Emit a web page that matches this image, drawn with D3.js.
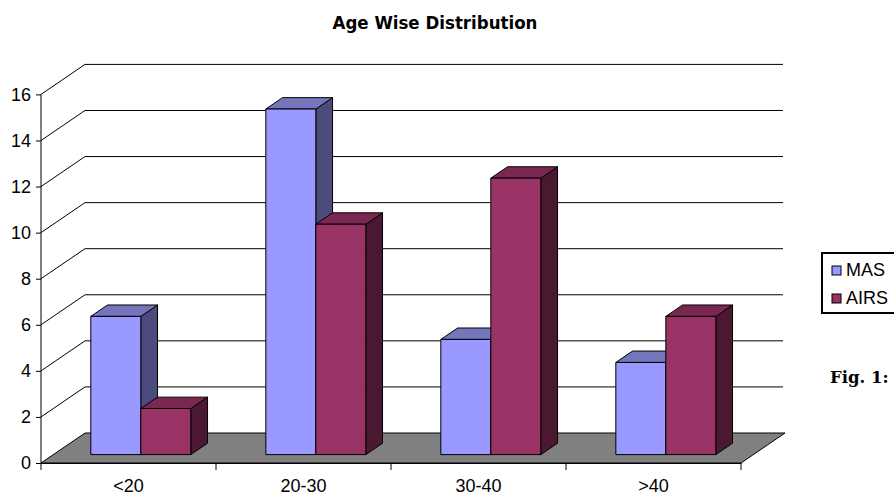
<!DOCTYPE html>
<html>
<head>
<meta charset="utf-8">
<script src="https://cdn.jsdelivr.net/npm/d3@7"></script>
<style>
  html, body { margin: 0; padding: 0; background: #fff; }
  svg { display: block; }
</style>
</head>
<body>
<svg id="chart" width="894" height="495"></svg>
<script>
// Age groups and counts per series
const categories = ["<20", "20-30", "30-40", ">40"];
const seriesNames = ["MAS", "AIRS"];
const masValues = [6, 15, 5, 4];
const airsValues = [2, 10, 12, 6];
const yTicks = [0, 2, 4, 6, 8, 10, 12, 14, 16];

const series = [
  { name: seriesNames[0], values: masValues, front: "#9999ff", top: "#7575bb", side: "#4b4b7e" },
  { name: seriesNames[1], values: airsValues, front: "#993366", top: "#7a2852", side: "#4b1832" }
];

const svg = d3.select("#chart");

// Front plane of the 3D box and the depth offset to its back wall
const x0 = 41, x1 = 741, yBase = 463;
const depthX = 44, depthY = -30;
// bars stand in a slab partway into the floor
const barFront = 0.28, barBack = 0.66;

const x = d3.scaleBand().domain(categories).range([x0, x1]).paddingInner(0).paddingOuter(0);
const xs = d3.scaleBand().domain(seriesNames).range([0, x.bandwidth()]).paddingOuter(0.75).paddingInner(0);
const y = d3.scaleLinear().domain([0, 16]).range([yBase, yBase - 368.6]);

// project a point on the front plane back by depth fraction d
const P = (px, py, d) => [px + d * depthX, py + d * depthY];
const pts = arr => arr.map(p => p.join(",")).join(" ");

// Floor
svg.append("polygon")
  .attr("points", pts([P(x0, yBase, 0), P(x1, yBase, 0), P(x1, yBase, 1), P(x0, yBase, 1)]))
  .attr("fill", "#808080")
  .attr("stroke", "#000")
  .attr("stroke-width", 1);

// Gridlines: slanted on the left wall, horizontal on the back wall
const grid = svg.append("g").attr("stroke", "#000").attr("stroke-width", 1).attr("fill", "none");
yTicks.filter(t => t > 0).forEach(t => {
  const a = P(x0, y(t), 0), b = P(x0, y(t), 1), c = P(x1 - 2, y(t), 1);
  grid.append("polyline").attr("points", pts([a, b, c]));
});

// Bars
const bars = svg.append("g").attr("stroke", "#000").attr("stroke-width", 1).attr("stroke-linejoin", "round");
categories.forEach((cat, i) => {
  series.forEach(s => {
    const v = s.values[i];
    const left = x(cat) + xs(s.name);
    const right = left + xs.bandwidth();
    const top = y(v), bot = y(0);
    const fl = P(left, top, barFront), fr = P(right, top, barFront);
    const br = P(right, top, barBack), bl = P(left, top, barBack);
    const frb = P(right, bot, barFront), brb = P(right, bot, barBack);
    const flb = P(left, bot, barFront);
    // right side face
    bars.append("polygon").attr("fill", s.side).attr("points", pts([fr, br, brb, frb]));
    // top face
    bars.append("polygon").attr("fill", s.top).attr("points", pts([fl, fr, br, bl]));
    // front face
    bars.append("polygon").attr("fill", s.front).attr("points", pts([fl, fr, frb, flb]));
  });
});

// Value axis on the front-left edge
const yAxis = svg.append("g").attr("transform", `translate(${x0},0)`)
  .call(d3.axisLeft(y).tickValues(yTicks).tickSize(5).tickPadding(5).tickFormat(d3.format("d")));
yAxis.select(".domain").attr("d", `M-0,${y(16)}V${y(0)}`).attr("stroke", "#000");
yAxis.selectAll(".tick line").attr("stroke", "#000");
yAxis.selectAll("text")
  .attr("fill", "#000")
  .style("font-family", "'Liberation Sans', Arial, sans-serif")
  .style("font-size", "18px");

// Category axis along the front edge of the floor
const xAxis = svg.append("g").attr("transform", `translate(0,${yBase})`)
  .call(d3.axisBottom(x).tickSize(0).tickPadding(16));
xAxis.select(".domain").attr("stroke", "#000");
xAxis.selectAll("text")
  .attr("fill", "#000")
  .style("font-family", "'Liberation Sans', Arial, sans-serif")
  .style("font-size", "18px");
// ticks between categories
xAxis.selectAll(".sep").data(d3.range(categories.length + 1)).join("line")
  .attr("class", "sep")
  .attr("x1", i => x0 + i * x.bandwidth()).attr("x2", i => x0 + i * x.bandwidth())
  .attr("y1", 0).attr("y2", 7).attr("stroke", "#000");

// Title
svg.append("text")
  .attr("x", 435).attr("y", 29)
  .attr("text-anchor", "middle")
  .style("font-family", "'DejaVu Sans Condensed', 'DejaVu Sans', sans-serif")
  .style("font-weight", "bold")
  .style("font-size", "18.5px")
  .text("Age Wise Distribution");

// Legend
const legend = svg.append("g").attr("transform", "translate(822,253)");
legend.append("rect")
  .attr("x", 0).attr("y", 0).attr("width", 80).attr("height", 60)
  .attr("fill", "#fff").attr("stroke", "#000").attr("stroke-width", 2);
series.forEach((s, i) => {
  const row = legend.append("g").attr("transform", `translate(0,${13 + i * 28})`);
  row.append("rect").attr("x", 10).attr("y", 0).attr("width", 9).attr("height", 9)
    .attr("fill", s.front).attr("stroke", "#000").attr("stroke-width", 1);
  row.append("text").attr("x", 24).attr("y", 10)
    .style("font-family", "'Liberation Sans', Arial, sans-serif")
    .style("font-size", "18px")
    .text(s.name);
});

// Figure caption
svg.append("text")
  .attr("x", 830).attr("y", 383)
  .style("font-family", "'DejaVu Serif', serif")
  .style("font-weight", "bold")
  .style("font-size", "16.5px")
  .text("Fig. 1:");
</script>
</body>
</html>
